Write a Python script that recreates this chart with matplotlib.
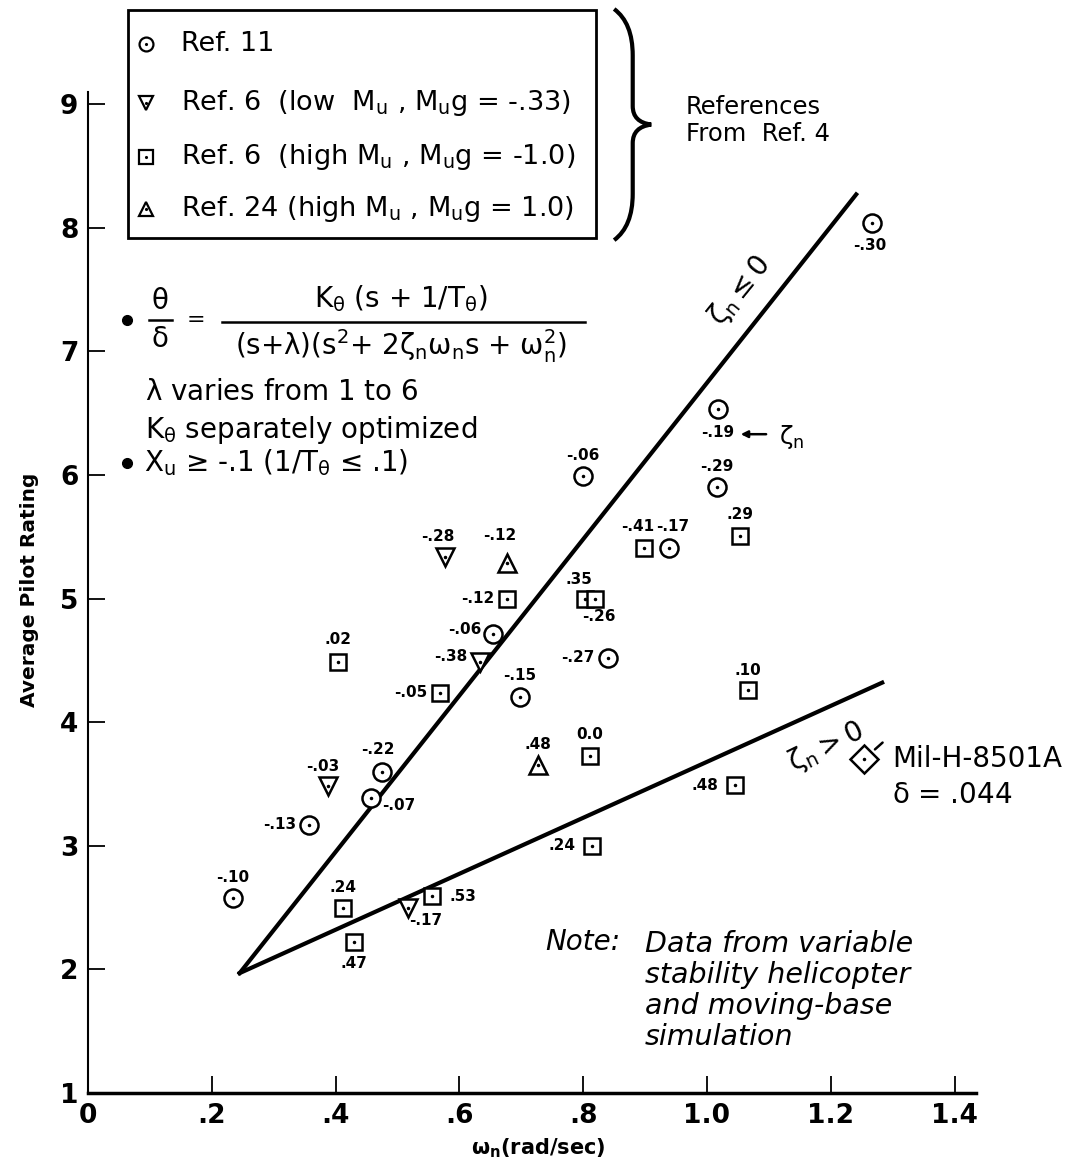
import numpy as np
import matplotlib.pyplot as plt
from matplotlib.patches import Rectangle, PathPatch
from matplotlib.path import Path

plt.rcParams['font.family'] = ['DejaVu Sans']
plt.rcParams['mathtext.fontset'] = 'dejavusans'
plt.rcParams['mathtext.default'] = 'regular'

# Ref. 11 (circles)
ref11_x = [0.234, 0.357, 0.457, 0.475, 0.654, 0.698, 0.800, 0.840, 0.939, 1.016, 1.018, 1.266]
ref11_y = [2.58, 3.17, 3.39, 3.60, 4.71, 4.20, 5.99, 4.52, 5.41, 5.90, 6.53, 8.04]
ref11_zeta = ['-.10', '-.13', '-.07', '-.22', '-.06', '-.15', '-.06', '-.27', '-.17', '-.29', '-.19', '-.30']

# Ref. 6, low Mu (inverted triangles)
ref6lo_x = [0.388, 0.517, 0.577, 0.633]
ref6lo_y = [3.48, 2.50, 5.34, 4.49]
ref6lo_zeta = ['-.03', '-.17', '-.28', '-.38']

# Ref. 6, high Mu (squares)
ref6hi_x = [0.404, 0.569, 0.677, 0.803, 0.819, 0.898, 1.053, 0.811, 0.814, 1.066, 1.045, 0.412, 0.556, 0.430]
ref6hi_y = [4.49, 4.24, 5.00, 5.00, 5.00, 5.41, 5.51, 3.73, 3.00, 4.26, 3.49, 2.50, 2.59, 2.22]
ref6hi_zeta = ['.02', '-.05', '-.12', '.35', '-.26', '-.41', '.29', '0.0', '.24', '.10', '.48', '.24', '.53', '.47']

# Ref. 24 (triangles)
ref24_x = [0.677, 0.727]
ref24_y = [5.29, 3.65]
ref24_zeta = ['-.12', '.48']

# Mil-H-8501A point
mil_x = [1.253]
mil_y = [3.70]

# boundary lines
upper_x = [0.245, 1.241]
upper_y = [1.97, 8.27]
lower_x = [0.245, 1.283]
lower_y = [1.97, 4.32]

xticks = [0, 0.2, 0.4, 0.6, 0.8, 1.0, 1.2, 1.4]
xticklabels = ['0', '.2', '.4', '.6', '.8', '1.0', '1.2', '1.4']
yticks = [1, 2, 3, 4, 5, 6, 7, 8, 9]

# label offsets in pixels (dx, dy)
ref11_off = [(0, 20), (-29, 0), (28, -8), (-4, 22), (-28, 5), (0, 22), (0, 21), (-30, 0), (3, 21), (0, 21), (0, -23), (-2, -23)]
ref6lo_off = [(-5, 20), (18, -13), (-7, 20), (-29, 5)]
ref6hi_off = [(0, 22), (-29, 0), (-29, 0), (-6, 19), (4, -18), (-6, 21), (0, 21), (0, 21), (-30, 0), (0, 20), (-30, 0), (0, 20), (31, 0), (0, -21)]
ref24_off = [(-7, 27), (0, 21)]

fig = plt.figure(figsize=(10.78, 11.72), dpi=100)
ax = fig.add_axes([88 / 1078, 79 / 1172, 990.4 / 1078, 1087.7 / 1172])
ax.set_xlim(0, 1.6)
ax.set_ylim(1, 9.8)

for s in ['top', 'right']:
    ax.spines[s].set_visible(False)
ax.spines['left'].set_bounds(1, 9.1)
ax.spines['bottom'].set_bounds(0, 1.435)
ax.spines['left'].set_linewidth(1.5)
ax.spines['bottom'].set_linewidth(2.5)

ax.set_xticks(xticks)
ax.set_xticklabels(xticklabels)
ax.set_yticks(yticks)
ax.tick_params(direction='in', length=12, width=1.3, labelsize=19, pad=7)
for t in ax.get_xticklabels() + ax.get_yticklabels():
    t.set_fontweight('bold')

fig.text(30 / 1078, 1 - 590 / 1172, 'Average Pilot Rating', rotation=90,
         ha='center', va='center', fontsize=14.5, fontweight='bold')
fig.text(538 / 1078, 1 - 1148 / 1172, r'$\omega_n$(rad/sec)', ha='center', va='center',
         fontsize=15, fontweight='bold')

# boundary lines
ax.plot(upper_x, upper_y, color='black', lw=3, zorder=2)
ax.plot(lower_x, lower_y, color='black', lw=3, zorder=2)


def draw_series(xs, ys, marker, ms, labels, offs):
    ax.plot(xs, ys, marker=marker, ls='none', ms=ms, mfc='white', mec='black', mew=1.8, zorder=3)
    ax.plot(xs, ys, marker='.', ls='none', ms=3, color='black', zorder=4)
    for x, y, lab, (dx, dy) in zip(xs, ys, labels, offs):
        ax.annotate(lab, (x, y), xytext=(dx, dy), textcoords='offset pixels',
                    ha='center', va='center', fontsize=11, fontweight='bold')


draw_series(ref11_x, ref11_y, 'o', 13, ref11_zeta, ref11_off)
draw_series(ref6lo_x, ref6lo_y, 'v', 13, ref6lo_zeta, ref6lo_off)
draw_series(ref6hi_x, ref6hi_y, 's', 11.5, ref6hi_zeta, ref6hi_off)
draw_series(ref24_x, ref24_y, '^', 13, ref24_zeta, ref24_off)
ax.plot(mil_x, mil_y, marker='D', ls='none', ms=14, mfc='white', mec='black', mew=1.8, zorder=3)
ax.plot(mil_x, mil_y, marker='.', ls='none', ms=3, color='black', zorder=4)
ax.annotate('', xy=(mil_x[0] + 0.015, mil_y[0] + 0.065), xytext=(mil_x[0] + 0.034, mil_y[0] + 0.15),
            arrowprops=dict(arrowstyle='-', lw=1.8, color='black'))
ax.text(1.299, 3.70, 'Mil-H-8501A', fontsize=20, va='center', ha='left')
ax.text(1.299, 3.41, r'$\delta$ = .044', fontsize=20, va='center', ha='left')

# line labels
ax.text(1.053, 7.49, r'$\zeta_n \leq 0$', rotation=51, fontsize=20, ha='center', va='center')
ax.text(1.192, 3.80, r'$\zeta_n > 0$', rotation=26, fontsize=20, ha='center', va='center')
ax.annotate('', xy=(1.050, 6.33), xytext=(1.100, 6.33),
            arrowprops=dict(arrowstyle='-|>', lw=1.8, color='black', mutation_scale=10))
ax.text(1.137, 6.31, r'$\zeta_n$', fontsize=18, ha='center', va='center')

# legend box
ax.add_patch(Rectangle((0.065, 7.92), 0.755, 1.84, fill=False, lw=2, ec='black', clip_on=False))
leg_y = [9.49, 9.01, 8.57, 8.15]
leg_mk = ['o', 'v', 's', '^']
leg_txt = ['Ref. 11',
           r'Ref. 6  (low  $M_u$ , $M_u$g = -.33)',
           r'Ref. 6  (high $M_u$ , $M_u$g = -1.0)',
           r'Ref. 24 (high $M_u$ , $M_u$g = 1.0)']
for y, mk, txt in zip(leg_y, leg_mk, leg_txt):
    ax.plot([0.094], [y], marker=mk, ms=10, mfc='white', mec='black', mew=1.6, clip_on=False)
    ax.plot([0.094], [y], marker='.', ms=2.5, color='black', clip_on=False)
    ax.text(0.150, y, txt, fontsize=19.5, va='center', ha='left')

# brace
bx, btop, bbot, bw = 0.850, 9.77, 7.90, 0.030
bmid = (btop + bbot) / 2
hh = btop - bbot
verts = [(bx, btop), (bx + bw, btop - 0.06 * hh), (bx + bw, btop - 0.2 * hh),
         (bx + bw, bmid + 0.08 * hh),
         (bx + bw, bmid + 0.01 * hh), (bx + 2 * bw, bmid),
         (bx + bw, bmid - 0.01 * hh), (bx + bw, bmid - 0.08 * hh),
         (bx + bw, bbot + 0.2 * hh),
         (bx + bw, bbot + 0.06 * hh), (bx, bbot)]
codes = [Path.MOVETO, Path.CURVE3, Path.CURVE3, Path.LINETO,
         Path.CURVE3, Path.CURVE3, Path.CURVE3, Path.CURVE3,
         Path.LINETO, Path.CURVE3, Path.CURVE3]
ax.add_patch(PathPatch(Path(verts, codes), fill=False, lw=3, ec='black', clip_on=False))
ax.text(0.966, 8.87, 'References\nFrom  Ref. 4', fontsize=17.5, va='center', ha='left', linespacing=1.15)

# transfer function block
ax.plot([0.063], [7.25], marker='o', ms=7, color='black')
ax.text(0.116, 7.41, r'$\theta$', fontsize=20, ha='center', va='center')
ax.plot([0.099, 0.135], [7.255, 7.255], color='black', lw=1.8)
ax.text(0.116, 7.10, r'$\delta$', fontsize=20, ha='center', va='center')
ax.text(0.174, 7.25, '=', fontsize=16, ha='center', va='center')
ax.text(0.505, 7.43, r'$K_\theta$ (s + 1/T$_\theta$)', fontsize=20, ha='center', va='center')
ax.plot([0.217, 0.803], [7.24, 7.24], color='black', lw=1.8)
ax.text(0.505, 7.04, r'(s+$\lambda$)(s$^2$+ 2$\zeta_n\omega_n$s + $\omega_n^2$)', fontsize=20,
        ha='center', va='center')
ax.text(0.092, 6.67, r'$\lambda$ varies from 1 to 6', fontsize=20, va='center', ha='left')
ax.text(0.092, 6.36, r'$K_\theta$ separately optimized', fontsize=20, va='center', ha='left')
ax.plot([0.063], [6.10], marker='o', ms=7, color='black')
ax.text(0.090, 6.10, r'X$_u$ ≥ -.1 (1/T$_\theta$ ≤ .1)', fontsize=20, va='center', ha='left')

# note
ax.text(0.738, 2.22, 'Note:', fontsize=20, style='italic', va='center', ha='left')
ax.text(0.900, 1.83, 'Data from variable\nstability helicopter\nand moving-base\nsimulation',
        fontsize=20.5, style='italic', va='center', ha='left', linespacing=1.13)

fig.savefig('out.png', dpi=100)
